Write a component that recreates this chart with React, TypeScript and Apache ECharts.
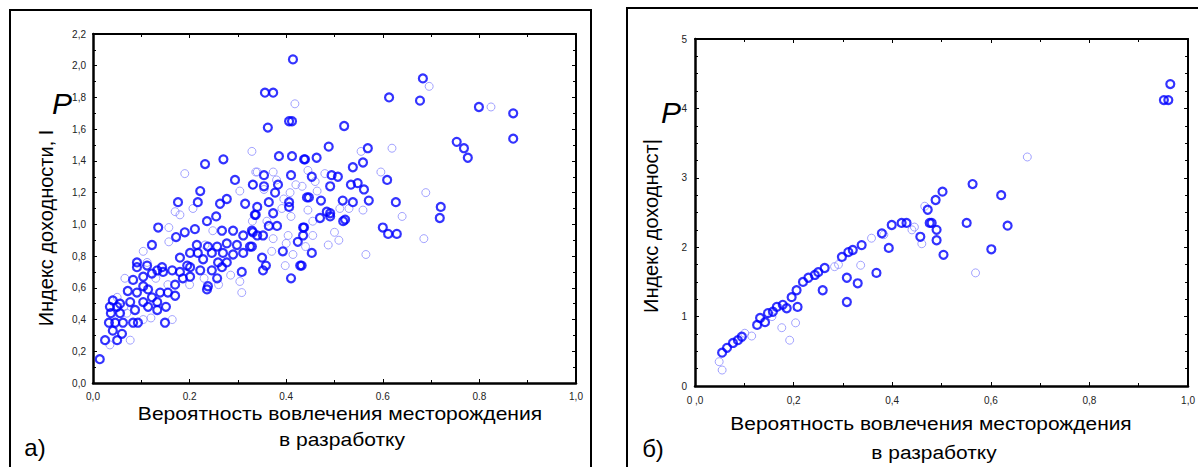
import React, { useEffect, useRef } from "react";
import * as echarts from "echarts";

// ---------- tick labels ----------
const leftXTickLabels = ["0,0", "0.2", "0.4", "0.6", "0.8", "1,0"];
const leftYTickLabels = ["0,0", "0,2", "0,4", "0,6", "0,8", "1,0", "1,2", "1,4", "1,6", "1,8", "2,0", "2,2"];
const rightXTickLabels = ["0 ,0", "0,2", "0,4", "0,6", "0,8", "1,0"];
const rightYTickLabels = ["0", "1", "2", "3", "4", "5"];

const xTitleLine1 = "Вероятность вовлечения месторождения";
const xTitleLine2 = "в разработку";
const leftYTitle = "Индекс доходности, I";
const rightYTitle = "Индекс доходност|";

// ---------- panel а) : probability vs profitability index ----------
const leftBold: number[][] = [
  [0.414, 2.04], [0.356, 1.83], [0.373, 1.83], [0.362, 1.61], [0.406, 1.65], [0.412, 1.65],
  [0.52, 1.62], [0.683, 1.92], [0.613, 1.8], [0.677, 1.78], [0.799, 1.74], [0.87, 1.7],
  [0.87, 1.54], [0.753, 1.52], [0.768, 1.48], [0.776, 1.42], [0.488, 1.49], [0.569, 1.48],
  [0.437, 1.41], [0.463, 1.42], [0.538, 1.36], [0.609, 1.28], [0.453, 1.3], [0.494, 1.31],
  [0.507, 1.3], [0.534, 1.25], [0.548, 1.26], [0.561, 1.22], [0.447, 1.17], [0.472, 1.15],
  [0.517, 1.15], [0.538, 1.14], [0.571, 1.15], [0.627, 1.14], [0.72, 1.11], [0.718, 1.04],
  [0.484, 1.08], [0.491, 1.05], [0.47, 1.04], [0.518, 1.02], [0.437, 0.98], [0.6, 0.98],
  [0.611, 0.94], [0.629, 0.94], [0.453, 0.82], [0.432, 0.74],
  [0.385, 1.43], [0.412, 1.43], [0.439, 1.41], [0.559, 1.39], [0.354, 1.31], [0.41, 1.31],
  [0.331, 1.25], [0.354, 1.24], [0.383, 1.25], [0.377, 1.2], [0.491, 1.24], [0.443, 1.17],
  [0.364, 1.14], [0.406, 1.14], [0.406, 1.11], [0.34, 1.11], [0.373, 1.07], [0.337, 1.06],
  [0.491, 1.07], [0.522, 1.03], [0.364, 0.99], [0.381, 0.99], [0.435, 0.98], [0.329, 0.96],
  [0.34, 0.93], [0.352, 0.93], [0.424, 0.89], [0.435, 0.93], [0.329, 0.86], [0.393, 0.83],
  [0.35, 0.79], [0.358, 0.74], [0.352, 0.71], [0.41, 0.66], [0.429, 0.74],
  [0.27, 1.41], [0.232, 1.38], [0.294, 1.28], [0.222, 1.21], [0.176, 1.14], [0.217, 1.14],
  [0.263, 1.13], [0.277, 1.16], [0.315, 1.13], [0.255, 1.05], [0.236, 1.02], [0.335, 1.06],
  [0.135, 0.98], [0.19, 0.95], [0.172, 0.92], [0.211, 0.97], [0.267, 0.96], [0.29, 0.96],
  [0.311, 0.93], [0.331, 0.95], [0.122, 0.87], [0.215, 0.87], [0.238, 0.86], [0.257, 0.86],
  [0.277, 0.88], [0.298, 0.87], [0.325, 0.86], [0.201, 0.82], [0.217, 0.82], [0.246, 0.82],
  [0.269, 0.82], [0.29, 0.81], [0.311, 0.82], [0.18, 0.79], [0.228, 0.78], [0.259, 0.76],
  [0.195, 0.74],
  [0.014, 0.15], [0.025, 0.27], [0.05, 0.27], [0.06, 0.31], [0.041, 0.33], [0.033, 0.38],
  [0.046, 0.38], [0.062, 0.38], [0.037, 0.44], [0.056, 0.44], [0.05, 0.48], [0.035, 0.48],
  [0.041, 0.52], [0.056, 0.5], [0.077, 0.51], [0.072, 0.58], [0.091, 0.57], [0.087, 0.46],
  [0.093, 0.38], [0.083, 0.38], [0.114, 0.48], [0.104, 0.51], [0.133, 0.46], [0.151, 0.48],
  [0.149, 0.38], [0.133, 0.51], [0.122, 0.54], [0.104, 0.61], [0.114, 0.59], [0.139, 0.57],
  [0.155, 0.57], [0.17, 0.62], [0.17, 0.55], [0.186, 0.66], [0.201, 0.67], [0.222, 0.71],
  [0.246, 0.71], [0.236, 0.59], [0.238, 0.61], [0.257, 0.66], [0.267, 0.73], [0.277, 0.76],
  [0.308, 0.7], [0.083, 0.65], [0.104, 0.67], [0.122, 0.69], [0.133, 0.71], [0.091, 0.73],
  [0.091, 0.76], [0.112, 0.74], [0.143, 0.73], [0.18, 0.7], [0.201, 0.73], [0.145, 0.7],
  [0.164, 0.71],
];
const leftThin: number[][] = [
  [0.418, 1.76], [0.696, 1.87], [0.824, 1.74], [0.555, 1.46], [0.619, 1.48], [0.596, 1.33],
  [0.689, 1.2], [0.64, 1.05], [0.509, 0.9], [0.565, 0.81], [0.685, 0.91], [0.34, 1.33],
  [0.373, 1.33], [0.48, 1.32], [0.408, 1.2], [0.433, 1.24], [0.464, 1.21], [0.391, 1.1],
  [0.445, 1.09], [0.511, 1.1], [0.559, 1.09], [0.373, 0.91], [0.404, 0.93], [0.455, 0.93],
  [0.414, 0.81], [0.398, 0.74], [0.487, 0.87],
  [0.329, 1.46], [0.19, 1.32], [0.337, 1.33], [0.331, 1.25], [0.304, 1.21], [0.207, 1.1],
  [0.17, 1.08], [0.18, 1.06], [0.157, 0.98], [0.248, 0.96], [0.104, 0.83], [0.157, 0.89],
  [0.112, 0.76], [0.232, 0.87],
  [0.035, 0.24], [0.077, 0.27], [0.07, 0.44], [0.104, 0.4], [0.164, 0.4], [0.05, 0.54],
  [0.066, 0.66], [0.304, 0.64], [0.308, 0.57], [0.064, 0.48], [0.12, 0.41],
  [0.155, 0.62], [0.2, 0.62], [0.13, 0.66], [0.26, 0.62], [0.285, 0.68], [0.23, 0.66],
  [0.354, 1.22], [0.38, 1.28], [0.42, 1.25], [0.445, 1.34], [0.46, 1.27], [0.395, 1.16],
  [0.33, 1.02], [0.36, 1.02], [0.41, 1.05], [0.455, 1.02], [0.5, 0.95], [0.53, 1.1],
  [0.4, 0.88], [0.44, 0.86], [0.37, 0.83],
];

// ---------- panel б) ----------
const rightBold: number[][] = [
  [0.055, 0.48], [0.065, 0.55], [0.077, 0.62], [0.087, 0.66], [0.095, 0.71], [0.126, 0.88],
  [0.132, 0.98], [0.142, 0.92], [0.148, 1.05], [0.158, 1.07], [0.166, 1.14], [0.178, 1.17],
  [0.186, 1.12], [0.196, 1.28], [0.208, 1.14], [0.206, 1.38], [0.219, 1.5], [0.23, 1.56],
  [0.243, 1.6], [0.25, 1.64], [0.259, 1.38], [0.263, 1.7], [0.298, 1.86], [0.308, 1.56],
  [0.308, 1.21], [0.311, 1.93], [0.32, 1.96], [0.33, 1.48], [0.338, 2.03], [0.368, 1.63],
  [0.379, 2.2], [0.393, 1.99], [0.399, 2.32], [0.419, 2.35], [0.429, 2.35], [0.457, 2.15],
  [0.472, 2.54], [0.476, 2.35], [0.49, 2.1], [0.488, 2.68], [0.502, 2.8], [0.504, 1.89],
  [0.48, 2.35], [0.551, 2.35], [0.634, 2.31], [0.621, 2.75], [0.563, 2.91], [0.601, 1.97],
  [0.951, 4.12], [0.96, 4.12], [0.964, 4.35], [0.49, 2.25],
];
const rightThin: number[][] = [
  [0.049, 0.35], [0.055, 0.23], [0.101, 0.76], [0.115, 0.72], [0.156, 1.0], [0.176, 0.84],
  [0.192, 0.66], [0.204, 0.91], [0.283, 1.72], [0.291, 1.75], [0.336, 1.74], [0.358, 2.13],
  [0.383, 2.18], [0.445, 2.29], [0.466, 2.59], [0.674, 3.3], [0.569, 1.63], [0.46, 2.05],
  [0.44, 2.25],
];

const BOLD = "#0000ff";
const THIN = "#8c8cff";
const FONT = "'Liberation Sans', Arial, sans-serif";

function mkAxis(
  gridIndex: number,
  position: string,
  min: number,
  max: number,
  interval: number,
  minorSplit: number,
  labels: string[] | null,
  margin: number,
  lineWidth: number
) {
  return {
    type: "value",
    gridIndex,
    position,
    min,
    max,
    interval,
    splitLine: { show: false },
    axisLine: { show: true, onZero: false, lineStyle: { color: "#000", width: lineWidth } },
    axisTick: { show: true, inside: true, length: 4, lineStyle: { color: "#000", width: 1 } },
    minorTick: { show: true, splitNumber: minorSplit, length: 3, lineStyle: { color: "#000", width: 1 } },
    axisLabel: labels
      ? {
          show: true,
          margin,
          color: "#222",
          fontSize: 10,
          fontFamily: FONT,
          formatter: (v: number) => labels[Math.round((v - min) / interval)] ?? "",
        }
      : { show: false },
  };
}

function scatter(data: number[][], xi: number, yi: number, color: string, w: number, z: number) {
  return {
    type: "scatter",
    xAxisIndex: xi,
    yAxisIndex: yi,
    data,
    symbol: "circle",
    symbolSize: 8,
    z,
    itemStyle: { color: "rgba(0,0,0,0)", borderColor: color, borderWidth: w },
  };
}

export default function App() {
  const ref = useRef<HTMLDivElement>(null);
  useEffect(() => {
    if (!ref.current) return;
    const chart = echarts.init(ref.current, undefined, { renderer: "svg" });
    const text = (t: string, x: number, y: number, font: string, extra: any = {}) => ({
      type: "text",
      x,
      y,
      z: 100,
      ...extra,
      style: { text: t, font, fill: "#000", textAlign: "center", textVerticalAlign: "middle" },
    });
    chart.setOption({
      animation: false,
      backgroundColor: "#fff",
      grid: [
        { left: 93, top: 34, width: 483, height: 349 },
        { left: 695, top: 39, width: 494, height: 347 },
      ],
      xAxis: [
        mkAxis(0, "bottom", 0, 1, 0.2, 2, leftXTickLabels, 8, 2.5),
        mkAxis(0, "top", 0, 1, 0.2, 2, null, 8, 2),
        mkAxis(1, "bottom", 0, 1, 0.2, 2, rightXTickLabels, 9, 2.5),
        mkAxis(1, "top", 0, 1, 0.2, 2, null, 8, 2),
      ],
      yAxis: [
        mkAxis(0, "left", 0, 2.2, 0.2, 2, leftYTickLabels, 7, 2.5),
        mkAxis(0, "right", 0, 2.2, 0.2, 2, null, 7, 2),
        mkAxis(1, "left", 0, 5, 1, 4, rightYTickLabels, 8, 2.5),
        mkAxis(1, "right", 0, 5, 1, 4, null, 8, 2),
      ],
      series: [
        scatter(leftThin, 0, 0, THIN, 1, 2),
        scatter(leftBold, 0, 0, BOLD, 2.2, 3),
        scatter(rightThin, 2, 2, THIN, 1, 2),
        scatter(rightBold, 2, 2, BOLD, 2.2, 3),
      ],
      graphic: [
        { type: "rect", shape: { x: 10, y: 10, width: 581, height: 480 }, style: { fill: "none", stroke: "#000", lineWidth: 2 } },
        { type: "rect", shape: { x: 627, y: 8, width: 620, height: 480 }, style: { fill: "none", stroke: "#000", lineWidth: 2 } },
        text(xTitleLine1, 340, 414, `18px ${FONT}`, { scaleX: 1.17 }),
        text(xTitleLine2, 342, 440, `18px ${FONT}`, { scaleX: 1.17 }),
        text(xTitleLine1, 931, 423, `19px ${FONT}`, { scaleX: 1.1 }),
        text(xTitleLine2, 934, 452, `19px ${FONT}`, { scaleX: 1.1 }),
        text(leftYTitle, 46, 228, `20px ${FONT}`, { rotation: Math.PI / 2 }),
        text(rightYTitle, 651, 226, `20px ${FONT}`, { rotation: Math.PI / 2 }),
        text("P", 62, 103, `italic 30px ${FONT}`),
        text("P", 671, 112, `italic 30px ${FONT}`),
        text("а)", 35, 447, `24px ${FONT}`),
        text("б)", 653, 448, `24px ${FONT}`),
      ],
    });
    return () => chart.dispose();
  }, []);
  return (
    <div
      ref={ref}
      style={{ position: "absolute", left: 0, top: 0, width: 1198, height: 467, background: "#fff" }}
    />
  );
}
